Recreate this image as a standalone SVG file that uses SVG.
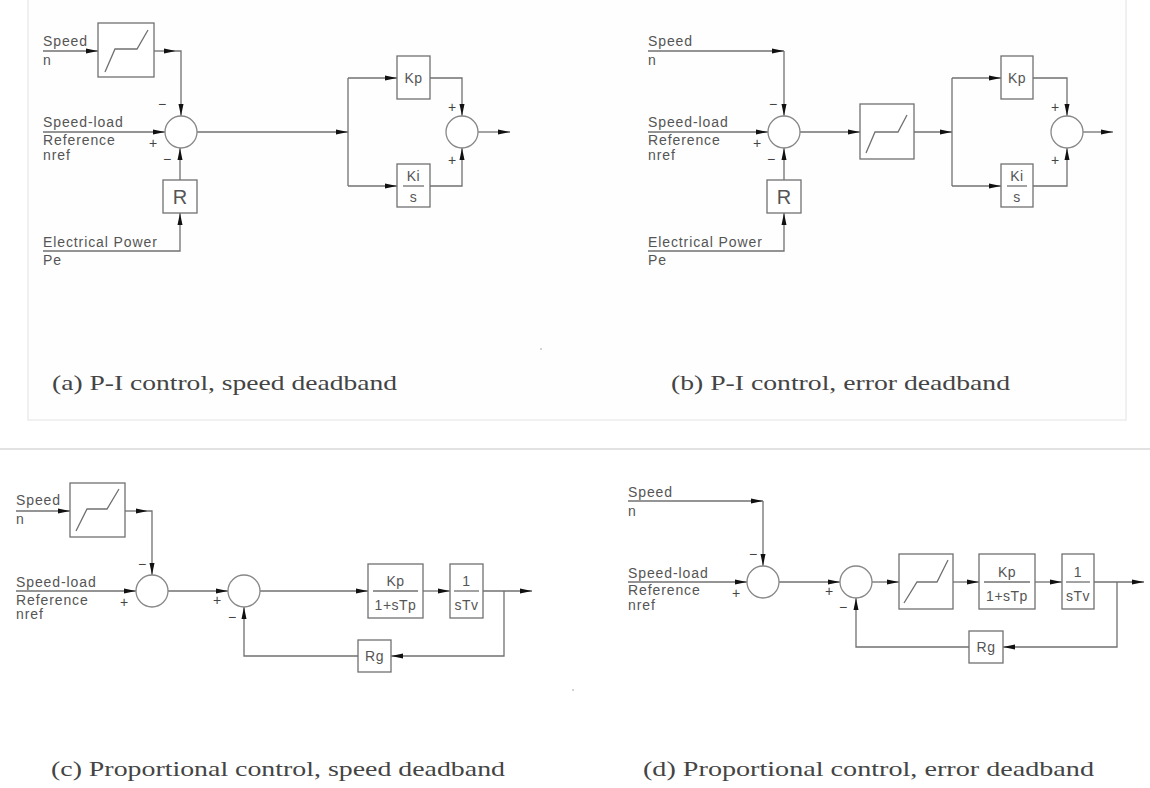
<svg xmlns="http://www.w3.org/2000/svg" width="1150" height="788" viewBox="0 0 1150 788">
<defs>
<marker id="ah" markerUnits="userSpaceOnUse" markerWidth="13" markerHeight="6" refX="12" refY="3" orient="auto"><path d="M0,0.5 L12,3 L0,5.5 z" fill="#111"/></marker>
<style>
.ln{fill:none;stroke:#707070;stroke-width:1.3}
.ar{fill:none;stroke:#707070;stroke-width:1.3;marker-end:url(#ah)}
.bx{fill:#fff;stroke:#707070;stroke-width:1.3}
.sm{fill:#fff;stroke:#888;stroke-width:1.3}
.t{font-family:"Liberation Sans",Arial,sans-serif;font-size:14px;fill:#555;letter-spacing:0.9px}
.c{font-family:"Liberation Sans",Arial,sans-serif;font-size:14px;fill:#555;text-anchor:middle;letter-spacing:0.5px}
.big{font-family:"Liberation Sans",Arial,sans-serif;font-size:20px;fill:#555;text-anchor:middle}
.sg{font-family:"Liberation Sans",Arial,sans-serif;font-size:14px;fill:#444;text-anchor:middle}
.cap{font-family:"Liberation Serif","DejaVu Serif",serif;font-size:22px;fill:#444}
</style>
</defs>
<rect width="1150" height="788" fill="#fff"/>
<rect x="28" y="-2" width="1098" height="422" fill="#fefefe" stroke="#ececec" stroke-width="1.5"/>
<line x1="0" y1="449" x2="1150" y2="449" stroke="#d9d9d9" stroke-width="1.5"/>
<line x1="541" y1="348" x2="541" y2="350" stroke="#aaa" stroke-width="1"/>
<line x1="573" y1="689" x2="573" y2="691" stroke="#aaa" stroke-width="1"/>

<g id="connectors">
<!-- (a) -->
<path class="ar" d="M43,51 H98"/>
<path class="ar" d="M154,51 H176"/>
<path class="ar" d="M176,51 H181 V116"/>
<path class="ar" d="M43,132 H165"/>
<path class="ar" d="M180,180 V148"/>
<path class="ar" d="M43,251 H180 V213"/>
<path class="ar" d="M197,132 H348"/>
<path class="ln" d="M348,78 V186"/>
<path class="ar" d="M348,78 H397"/>
<path class="ar" d="M348,186 H397"/>
<path class="ar" d="M430,78 H462 V116"/>
<path class="ar" d="M430,186 H462 V148"/>
<path class="ar" d="M478,132 H510"/>
<!-- (b) -->
<path class="ar" d="M648,51 H784"/>
<path class="ar" d="M784,51 V116"/>
<path class="ar" d="M648,132 H768"/>
<path class="ar" d="M784,180 V148"/>
<path class="ar" d="M648,251 H784 V213"/>
<path class="ar" d="M800,132 H860"/>
<path class="ar" d="M914,132 H952"/>
<path class="ln" d="M952,78 V186"/>
<path class="ar" d="M952,78 H1001"/>
<path class="ar" d="M952,186 H1001"/>
<path class="ar" d="M1033,78 H1067 V116"/>
<path class="ar" d="M1033,186 H1067 V148"/>
<path class="ar" d="M1083,132 H1113"/>
<!-- (c) -->
<path class="ar" d="M16,511 H70"/>
<path class="ar" d="M125,511 H148"/>
<path class="ar" d="M148,511 H152 V575"/>
<path class="ar" d="M16,591 H136"/>
<path class="ar" d="M168,591 H228"/>
<path class="ar" d="M260,591 H368"/>
<path class="ar" d="M423,591 H450"/>
<path class="ar" d="M483,591 H532"/>
<path class="ar" d="M504,591 V656 H391"/>
<path class="ar" d="M358,656 H244 V607"/>
<!-- (d) -->
<path class="ar" d="M628,501 H763"/>
<path class="ar" d="M763,501 V566"/>
<path class="ar" d="M628,582 H747"/>
<path class="ar" d="M779,582 H840"/>
<path class="ar" d="M872,582 H899"/>
<path class="ar" d="M953,582 H979"/>
<path class="ar" d="M1035,582 H1062"/>
<path class="ar" d="M1094,582 H1144"/>
<path class="ar" d="M1117,582 V647 H1003"/>
<path class="ar" d="M969,647 H856 V598"/>
</g>

<!-- ===== (a) ===== -->
<g id="a-labels">
<text class="t" x="43" y="46">Speed</text>
<text class="t" x="43" y="65">n</text>
<text class="t" x="43" y="127">Speed-load</text>
<text class="t" x="43" y="145">Reference</text>
<text class="t" x="43" y="160">nref</text>
<text class="t" x="43" y="247">Electrical Power</text>
<text class="t" x="43" y="265">Pe</text>
</g>
<g id="a-deadband">
<rect class="bx" x="98" y="23" width="56" height="54"/>
<polyline class="ln" points="105,72 115,49 137,49 148,30"/>
</g>
<g id="a-sum1">
<circle class="sm" cx="181" cy="132" r="16"/>
<text class="sg" x="162" y="109">−</text>
<text class="sg" x="153" y="148">+</text>
<text class="sg" x="167" y="164">−</text>
</g>
<g id="a-R">
<rect class="bx" x="163" y="180" width="34" height="33"/>
<text class="big" x="180" y="204">R</text>
</g>
<g id="a-Kp">
<rect class="bx" x="397" y="56" width="33" height="43"/>
<text class="c" x="413.5" y="83">Kp</text>
</g>
<g id="a-Ki">
<rect class="bx" x="397" y="164" width="33" height="43"/>
<text class="c" x="413.5" y="181">Ki</text>
<line class="ln" x1="403" y1="186" x2="424" y2="186"/>
<text class="c" x="413.5" y="202">s</text>
</g>
<g id="a-sum2">
<circle class="sm" cx="462" cy="132" r="16"/>
<text class="sg" x="452" y="112">+</text>
<text class="sg" x="452" y="165">+</text>
</g>

<!-- ===== (b) ===== -->
<g id="b-labels">
<text class="t" x="648" y="46">Speed</text>
<text class="t" x="648" y="65">n</text>
<text class="t" x="648" y="127">Speed-load</text>
<text class="t" x="648" y="145">Reference</text>
<text class="t" x="648" y="160">nref</text>
<text class="t" x="648" y="247">Electrical Power</text>
<text class="t" x="648" y="265">Pe</text>
</g>
<g id="b-sum1">
<circle class="sm" cx="784" cy="132" r="16"/>
<text class="sg" x="773" y="109">−</text>
<text class="sg" x="757" y="148">+</text>
<text class="sg" x="771" y="164">−</text>
</g>
<g id="b-R">
<rect class="bx" x="767" y="180" width="34" height="33"/>
<text class="big" x="784" y="204">R</text>
</g>
<g id="b-deadband">
<rect class="bx" x="860" y="104" width="54" height="55"/>
<polyline class="ln" points="866,153 875,132 898,132 907,115"/>
</g>
<g id="b-Kp">
<rect class="bx" x="1001" y="56" width="32" height="43"/>
<text class="c" x="1017" y="83">Kp</text>
</g>
<g id="b-Ki">
<rect class="bx" x="1001" y="164" width="32" height="43"/>
<text class="c" x="1017" y="181">Ki</text>
<line class="ln" x1="1007" y1="186" x2="1027" y2="186"/>
<text class="c" x="1017" y="202">s</text>
</g>
<g id="b-sum2">
<circle class="sm" cx="1067" cy="132" r="16"/>
<text class="sg" x="1055" y="112">+</text>
<text class="sg" x="1055" y="165">+</text>
</g>

<!-- ===== (c) ===== -->
<g id="c-labels">
<text class="t" x="16" y="505">Speed</text>
<text class="t" x="16" y="524">n</text>
<text class="t" x="16" y="587">Speed-load</text>
<text class="t" x="16" y="605">Reference</text>
<text class="t" x="16" y="619">nref</text>
</g>
<g id="c-deadband">
<rect class="bx" x="70" y="483" width="55" height="54"/>
<polyline class="ln" points="76,531 87,509 107,509 119,489"/>
</g>
<g id="c-sum1">
<circle class="sm" cx="152" cy="591" r="16"/>
<text class="sg" x="142" y="569">−</text>
<text class="sg" x="124" y="607">+</text>
</g>
<g id="c-sum2">
<circle class="sm" cx="244" cy="591" r="16"/>
<text class="sg" x="217" y="605">+</text>
<text class="sg" x="232" y="622">−</text>
</g>
<g id="c-Kp">
<rect class="bx" x="368" y="564" width="55" height="54"/>
<text class="c" x="395.5" y="586">Kp</text>
<line class="ln" x1="373" y1="591" x2="418" y2="591"/>
<text class="c" x="395.5" y="610">1+sTp</text>
</g>
<g id="c-Tv">
<rect class="bx" x="450" y="564" width="33" height="54"/>
<text class="c" x="466.5" y="586">1</text>
<line class="ln" x1="454" y1="591" x2="479" y2="591"/>
<text class="c" x="466.5" y="610">sTv</text>
</g>
<g id="c-Rg">
<rect class="bx" x="358" y="640" width="33" height="32"/>
<text class="c" x="374.5" y="661">Rg</text>
</g>

<!-- ===== (d) ===== -->
<g id="d-labels">
<text class="t" x="628" y="497">Speed</text>
<text class="t" x="628" y="516">n</text>
<text class="t" x="628" y="578">Speed-load</text>
<text class="t" x="628" y="595">Reference</text>
<text class="t" x="628" y="610">nref</text>
</g>
<g id="d-sum1">
<circle class="sm" cx="763" cy="582" r="16"/>
<text class="sg" x="753" y="559">−</text>
<text class="sg" x="736" y="598">+</text>
</g>
<g id="d-sum2">
<circle class="sm" cx="856" cy="582" r="16"/>
<text class="sg" x="829" y="596">+</text>
<text class="sg" x="843" y="612">−</text>
</g>
<g id="d-deadband">
<rect class="bx" x="899" y="554" width="54" height="55"/>
<polyline class="ln" points="904,603 917,582 937,582 948,560"/>
</g>
<g id="d-Kp">
<rect class="bx" x="979" y="554" width="56" height="55"/>
<text class="c" x="1007" y="577">Kp</text>
<line class="ln" x1="984" y1="582" x2="1030" y2="582"/>
<text class="c" x="1007" y="601">1+sTp</text>
</g>
<g id="d-Tv">
<rect class="bx" x="1062" y="554" width="32" height="55"/>
<text class="c" x="1078" y="577">1</text>
<line class="ln" x1="1066" y1="582" x2="1090" y2="582"/>
<text class="c" x="1078" y="601">sTv</text>
</g>
<g id="d-Rg">
<rect class="bx" x="969" y="631" width="34" height="32"/>
<text class="c" x="986" y="652">Rg</text>
</g>

<g id="captions">
<text class="cap" x="52" y="390" textLength="345" lengthAdjust="spacingAndGlyphs">(a) P-I control, speed deadband</text>
<text class="cap" x="671" y="390" textLength="339" lengthAdjust="spacingAndGlyphs">(b) P-I control, error deadband</text>
<text class="cap" x="51" y="776" textLength="454" lengthAdjust="spacingAndGlyphs">(c) Proportional control, speed deadband</text>
<text class="cap" x="643" y="776" textLength="451" lengthAdjust="spacingAndGlyphs">(d) Proportional control, error deadband</text>
</g>
</svg>
